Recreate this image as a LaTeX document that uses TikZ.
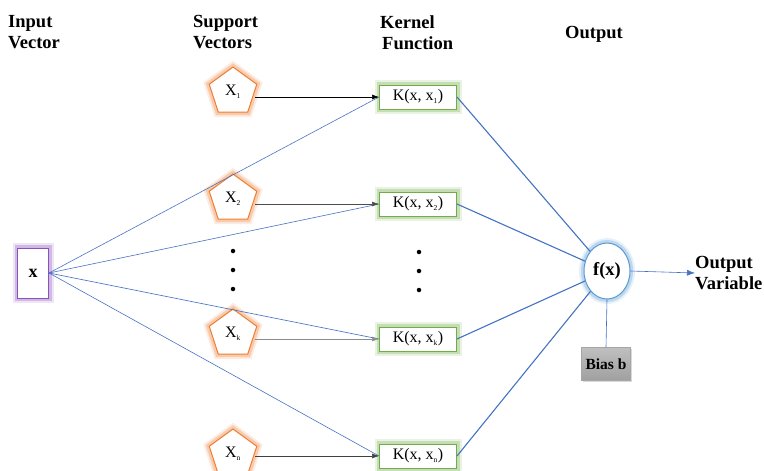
\documentclass[tikz,border=0pt]{standalone}
\usepackage{fontspec}
\setmainfont{Liberation Serif}
\usetikzlibrary{shapes.geometric,arrows.meta,shadows}
\definecolor{obl}{RGB}{68,114,196}
\definecolor{oor}{RGB}{237,125,49}
\definecolor{ogr}{RGB}{112,173,71}
\definecolor{opu}{RGB}{140,80,190}
\definecolor{lbl}{RGB}{91,155,213}
\newcommand{\sbs}[1]{\textsubscript{\fontsize{7.5}{7.5}\selectfont #1}}
\tikzset{
  glow/.style={preaction={draw=#1!15, line width=10pt}, preaction={draw=#1!40, line width=6pt}},
  lab/.style={font=\fontsize{18.5}{21}\selectfont\bfseries, align=left, inner sep=0pt},
  sv/.style={regular polygon, regular polygon sides=5, minimum size=50pt, inner sep=0pt,
    draw=oor, line width=1pt, fill=white, font=\fontsize{16}{16}\selectfont, glow=oor},
  kern/.style={rectangle, draw=ogr, line width=1pt, fill=white, minimum width=77pt, minimum height=24pt,
    inner sep=0pt, font=\fontsize{16}{16}\selectfont, glow=ogr},
  inbox/.style={rectangle, draw=opu, line width=1pt, fill=white, minimum width=31pt, minimum height=50pt,
    inner sep=0pt, font=\fontsize{18}{18}\selectfont\bfseries, glow=opu},
  outell/.style={ellipse, draw=lbl, line width=1pt, fill=white, minimum width=46pt, minimum height=56pt,
    inner sep=0pt, font=\fontsize{18.5}{18}\selectfont\bfseries, glow=lbl},
  biasbox/.style={rectangle, top color=gray!50, bottom color=gray!75, draw=gray!70, minimum width=49pt,
    minimum height=33pt, inner sep=0pt, font=\fontsize{15.5}{15}\selectfont\bfseries,
    drop shadow={opacity=0.3, shadow xshift=1.5pt, shadow yshift=-1.5pt}},
  inl/.style={draw=obl, line width=0.6pt},
  outl/.style={draw=obl, line width=1.1pt},
  sva/.style={-{Latex[length=7pt,width=5pt]}, line width=0.6pt},
  dot/.style={circle, fill=black, inner sep=0pt, minimum size=4.5pt},
}
\begin{document}
\begin{tikzpicture}[x=1pt,y=-1pt]
\useasboundingbox (0,0) rectangle (764,471);
% labels
\node[lab, anchor=north west] (lin) at (8,15) {Input\\Vector};
\node[lab, anchor=north west] (lsv) at (193,15) {Support\\Vectors};
\node[lab, anchor=north west] (lkf) at (380,15) {Kernel\\\hspace*{2pt}Function};
\node[lab] (lout) at (594,34) {Output};
% input
\node[inbox] (x) at (33,273) {x};
% support vectors
\node[sv] (s1) at (233,92) {X\sbs{1}};
\node[sv] (s2) at (233,199) {X\sbs{2}};
\node[sv] (sk) at (233,334) {X\sbs{k}};
\node[sv] (sn) at (233,454) {X\sbs{n}};
\node[dot] (d1) at (233,251) {};
\node[dot] (d2) at (233,270) {};
\node[dot] (d3) at (233,289) {};
% kernels
\node[kern] (k1) at (418,97) {K(x, x\sbs{1})};
\node[kern] (k2) at (418,204) {K(x, x\sbs{2})};
\node[kern] (kk) at (418,339) {K(x, x\sbs{k})};
\node[kern] (kn) at (418,456) {K(x, x\sbs{n})};
\node[dot] (e1) at (419,252) {};
\node[dot] (e2) at (419,271) {};
\node[dot] (e3) at (419,290) {};
% output
\node[outell] (f) at (607,271) {f(x)};
\node[biasbox] (b) at (606,364) {Bias b};
\node[lab, anchor=west] (ov) at (695,273) {Output\\Variable};
% input lines
\draw[inl] (x.east) -- (k1.west);
\draw[inl] (x.east) -- (k2.west);
\draw[inl] (x.east) -- (kk.west);
\draw[inl] (x.east) -- (kn.west);
% support vector arrows
\draw[sva, black] (s1.east |- k1.west) -- (k1.west);
\draw[sva, black!70] (s2.east |- k2.west) -- (k2.west);
\draw[sva, black!45] (sk.east |- kk.west) -- (kk.west);
\draw[sva, black!75] (sn.east |- kn.west) -- (kn.west);
% kernel to output
\draw[outl] (k1.east) -- (f);
\draw[outl] (k2.east) -- (f);
\draw[outl] (kk.east) -- (f);
\draw[outl] (kn.east) -- (f);
\draw[inl] (f.south) -- (b.north);
\draw[inl, -{Latex[length=8pt,width=6pt]}] (f.east) -- (ov.west);
\end{tikzpicture}
\end{document}
